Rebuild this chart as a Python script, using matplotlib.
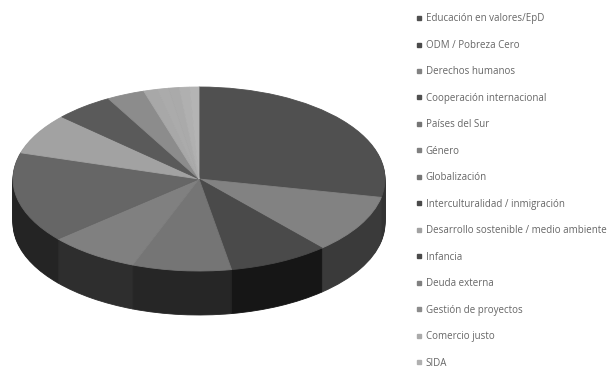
import matplotlib
matplotlib.use('Agg')
import matplotlib.pyplot as plt
from matplotlib.lines import Line2D

labels = ['Educación en valores/EpD', 'ODM / Pobreza Cero', 'Derechos humanos',
          'Cooperación internacional', 'Países del Sur', 'Género', 'Globalización',
          'Interculturalidad / inmigración', 'Desarrollo sostenible / medio ambiente',
          'Infancia', 'Deuda externa', 'Gestión de proyectos', 'Comercio justo', 'SIDA']
# clockwise from 12 o'clock, in percent
values = [28.2, 10.3, 8.7, 8.6, 7.9, 15.9, 7.2, 5.1, 3.3, 1.2, 1.0, 0.9, 0.9, 0.8]
top_colors = ['#505050', '#828282', '#4a4a4a', '#757575', '#808080', '#666666', '#a2a2a2',
              '#5a5a5a', '#8c8c8c', '#a8a8a8', '#ababab', '#aaaaaa', '#b0b0b0', '#b4b4b4']
side_colors = ['#333333', '#3a3a3a', '#161616', '#262626', '#2e2e2e', '#242424', '#555555',
               '#333333', '#555555', '#666666', '#666666', '#666666', '#666666', '#666666']
legend_colors = ['#505050', '#4a4a4a', '#828282', '#505050', '#757575', '#808080', '#757575',
                 '#4a4a4a', '#a2a2a2', '#4a4a4a', '#808080', '#8c8c8c', '#aaaaaa', '#b0b0b0']

W, H = 608, 372
CX, CY, RX, RY, DEPTH = 199, 179, 186, 92, 44

fig = plt.figure(figsize=(W / 100, H / 100), dpi=100)
ax = fig.add_axes([0, 0, 1, 1])


def draw_pie(colors, offset=0):
    wedges, _ = ax.pie(values, colors=colors, startangle=90, counterclock=False,
                       center=(0, -offset / RY))
    # edge in the wedge's own colour hides the antialiasing seams
    for w, c in zip(wedges, colors):
        w.set_edgecolor(c)
        w.set_linewidth(0.6)


# side wall: stack of flat pies going up, top face last
for d in range(DEPTH, 0, -1):
    draw_pie(side_colors, d)
draw_pie(top_colors)

ax.set_aspect('auto')
ax.set_xlim(-CX / RX, (W - CX) / RX)
ax.set_ylim(-(H - CY) / RY, CY / RY)
ax.axis('off')

handles = [Line2D([], [], linestyle='none', marker='s', markersize=3.2, color=c)
           for c in legend_colors]
fig.legend(handles, labels, loc='upper left', bbox_to_anchor=(417 / W, 1 - 13.5 / H),
           bbox_transform=fig.transFigure, frameon=False,
           labelcolor='#666666', handlelength=0.5, handletextpad=0.37,
           labelspacing=1.58, borderpad=0, borderaxespad=0,
           prop={'family': 'Open Sans', 'size': 7.05})

fig.savefig('out.png', dpi=100)
